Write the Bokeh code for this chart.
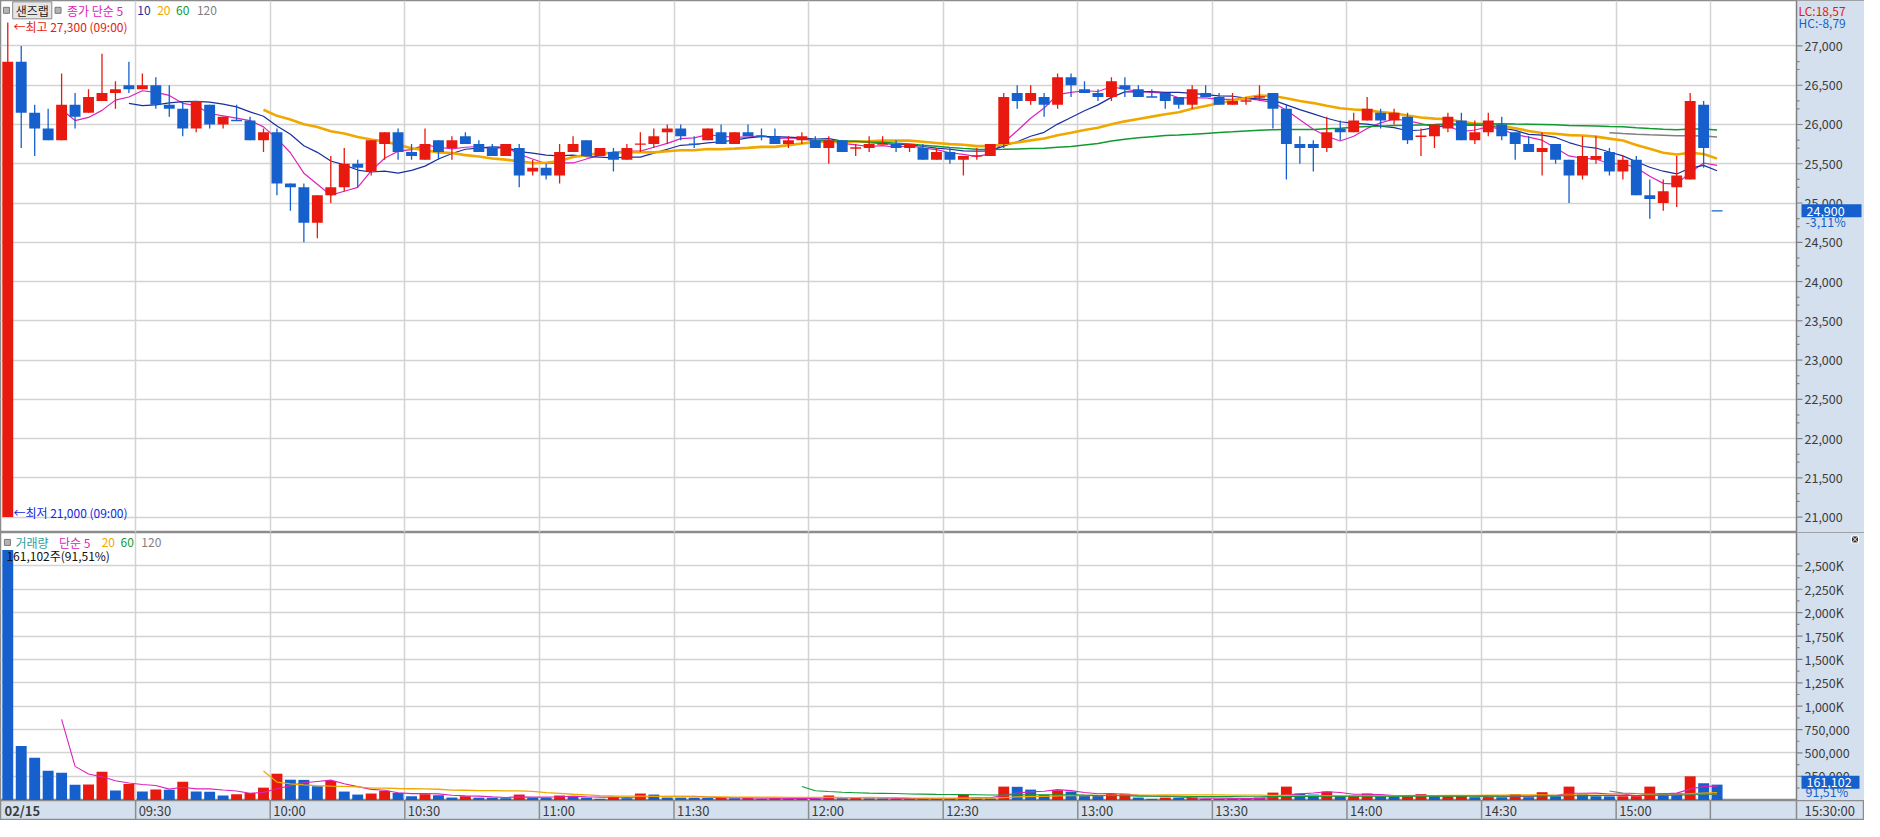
import pandas as pd
from bokeh.plotting import figure
from bokeh.layouts import column
from bokeh.models import Range1d, FixedTicker, Label, ColumnDataSource
from bokeh.core.properties import value
from bokeh.embed import file_html
from bokeh.resources import INLINE

# ---------------- data (3-minute candles, slot 0 = 09:00, slot 127 = 15:30 close) ----------------
opens = [21000, 26800, 26150, 25950, 25800, 26250, 26150, 26300, 26400, 26500,
         26450, 26500, 26250, 26200, 25950, 26250, 26000, 26050, 26050, 25800,
         25900, 25250, 25200, 24750, 25100, 25200, 25500, 25400, 25750, 25900,
         25650, 25550, 25800, 25700, 25850, 25750, 25700, 25600, 25700, 25400,
         25450, 25350, 25650, 25800, 25600, 25650, 25550, 25750, 25750, 25900,
         25950, 25750, 25800, 25900, 25750, 25900, 25850, 25850, 25750, 25800,
         25800, 25700, 25800, 25700, 25700, 25750, 25750, 25700, 25700, 25550,
         25650, 25550, 25600, 25600, 25750, 26400, 26300, 26350, 26250, 26600,
         26450, 26400, 26350, 26500, 26450, 26350, 26400, 26350, 26250, 26400,
         26350, 26250, 26300, 26350, 26400, 26200, 25750, 25750, 25700, 25950,
         25900, 26050, 26150, 26050, 26100, 25850, 25850, 25950, 26050, 25800,
         25900, 26000, 25900, 25750, 25650, 25750, 25550, 25350, 25550, 25650,
         25400, 25550, 25100, 25000, 25200, 25300, 26250, 24900]
highs = [27300, 27000, 26250, 26200, 26650, 26400, 26450, 26900, 26550, 26800,
         26650, 26600, 26500, 26300, 26300, 26250, 26100, 26250, 26100, 25950,
         25950, 25250, 25250, 25100, 25600, 25700, 25550, 25800, 25900, 25950,
         25750, 25950, 25800, 25850, 25900, 25800, 25750, 25750, 25750, 25550,
         25500, 25750, 25850, 25800, 25700, 25700, 25750, 25900, 25950, 26000,
         26000, 25850, 25950, 26000, 25900, 26000, 25950, 25950, 25850, 25900,
         25850, 25850, 25800, 25750, 25850, 25850, 25800, 25750, 25750, 25700,
         25700, 25600, 25700, 25750, 26400, 26500, 26500, 26400, 26650, 26650,
         26550, 26450, 26600, 26600, 26500, 26450, 26400, 26350, 26500, 26500,
         26400, 26400, 26350, 26500, 26400, 26250, 25850, 25800, 26100, 26050,
         26150, 26350, 26200, 26200, 26150, 25950, 26000, 26150, 26150, 26050,
         26150, 26100, 25900, 25850, 25900, 25750, 25550, 25850, 25850, 25700,
         25600, 25600, 25300, 25300, 25600, 26400, 26300, 24900]
lows = [21000, 25700, 25600, 25800, 25800, 25950, 26150, 26300, 26200, 26400,
        26450, 26200, 26100, 25850, 25900, 25950, 25950, 26050, 25800, 25650,
        25100, 24900, 24500, 24550, 25000, 25150, 25200, 25350, 25550, 25550,
        25550, 25550, 25550, 25550, 25750, 25650, 25600, 25600, 25200, 25350,
        25300, 25250, 25650, 25600, 25600, 25400, 25550, 25650, 25700, 25750,
        25800, 25700, 25800, 25750, 25750, 25850, 25800, 25750, 25700, 25750,
        25700, 25500, 25650, 25600, 25650, 25750, 25650, 25650, 25550, 25550,
        25500, 25350, 25550, 25600, 25700, 26200, 26250, 26100, 26200, 26350,
        26400, 26300, 26300, 26350, 26350, 26350, 26200, 26200, 26200, 26350,
        26250, 26250, 26250, 26300, 25950, 25300, 25500, 25400, 25650, 25800,
        25900, 26050, 25950, 26000, 25750, 25600, 25700, 25900, 25800, 25750,
        25850, 25800, 25550, 25650, 25350, 25500, 25000, 25300, 25500, 25350,
        25300, 25100, 24800, 24900, 24950, 25300, 25450, 24900]
closes = [26800, 26150, 25950, 25800, 26250, 26100, 26350, 26400, 26450, 26450,
          26500, 26250, 26200, 25950, 26300, 26000, 26100, 26050, 25800, 25900,
          25250, 25200, 24750, 25100, 25200, 25500, 25450, 25800, 25900, 25650,
          25600, 25750, 25650, 25800, 25750, 25650, 25600, 25750, 25350, 25450,
          25350, 25650, 25750, 25600, 25700, 25550, 25700, 25750, 25850, 25950,
          25850, 25750, 25950, 25750, 25900, 25850, 25850, 25750, 25800, 25850,
          25700, 25800, 25650, 25700, 25750, 25750, 25700, 25750, 25550, 25650,
          25550, 25600, 25600, 25750, 26350, 26300, 26400, 26250, 26600, 26500,
          26400, 26350, 26550, 26450, 26350, 26350, 26300, 26250, 26450, 26350,
          26250, 26300, 26300, 26350, 26200, 25750, 25700, 25700, 25900, 25900,
          26050, 26200, 26050, 26150, 25800, 25850, 26000, 26100, 25800, 25900,
          26050, 25850, 25750, 25650, 25700, 25550, 25350, 25600, 25600, 25400,
          25550, 25100, 25050, 25150, 25350, 26300, 25700, 24900]
volumes = [2669000, 575000, 448000, 310000, 289000, 161000, 163000, 299000, 98000, 168000,
           87000, 108000, 106000, 193000, 87000, 85000, 45000, 59000, 73000, 129000,
           278000, 214000, 212000, 144000, 200000, 87000, 55000, 66000, 94000, 73000,
           37000, 59000, 48000, 23000, 37000, 22000, 21000, 16000, 55000, 23000,
           22000, 45000, 41000, 23000, 9000, 27000, 16000, 66000, 55000, 23000,
           22000, 21000, 20000, 23000, 16000, 18000, 9000, 18000, 8000, 23000,
           12000, 45000, 16000, 18000, 15000, 14000, 10000, 9000, 10000, 8000,
           10000, 52000, 16000, 15000, 140000, 138000, 108000, 52000, 101000, 87000,
           41000, 40000, 62000, 64000, 23000, 9000, 23000, 22000, 24000, 9000,
           8000, 7000, 9000, 23000, 76000, 140000, 66000, 55000, 87000, 41000,
           43000, 66000, 37000, 36000, 38000, 59000, 37000, 38000, 39000, 27000,
           28000, 26000, 59000, 27000, 80000, 37000, 140000, 59000, 37000, 36000,
           37000, 38000, 140000, 70000, 68000, 250000, 176050, 161102]

tick_slots = [10, 20, 30, 40, 50, 60, 70, 80, 90, 100, 110, 120]
tick_labels = ["09:30", "10:00", "10:30", "11:00", "11:30", "12:00",
               "12:30", "13:00", "13:30", "14:00", "14:30", "15:00"]
close_slot = 127
session_date = "02/15"
close_time = "15:30:00"
price_ma_windows = [5, 10, 20, 60, 120]
volume_ma_windows = [5, 20, 60, 120]
price_ticks = [21000, 21500, 22000, 22500, 23000, 23500, 24000, 24500, 25000, 25500, 26000, 26500, 27000]
price_tick_labels = ["21,000", "21,500", "22,000", "22,500", "23,000", "23,500", "24,000",
                     "24,500", "25,000", "25,500", "26,000", "26,500", "27,000"]
volume_ticks = [250000, 500000, 750000, 1000000, 1250000, 1500000, 1750000, 2000000, 2250000, 2500000]
volume_tick_labels = ["250,000", "500,000", "750,000", "1,000K", "1,250K", "1,500K",
                      "1,750K", "2,000K", "2,250K", "2,500K"]
last_price = 24900
last_price_text = "24,900"
last_change_text = "-3,11%"
last_volume = 161102
last_volume_text = "161,102"
volume_ratio_text = "91,51%"
volume_info_text = "161,102주(91,51%)"
lc_text = "LC:18,57"
hc_text = "HC:-8,79"
high_text = "←최고 27,300 (09:00)"
low_text = "←최저 21,000 (09:00)"

# ---------------- style / geometry ----------------
RED = "#E8190E"
BLUE = "#1560CC"
BAND = "#D5E0EE"
GRID = "#D3D3D3"
EDGE = "#8C8C8C"
AXIS = "#808080"
TXT = "#3C3C3C"
FONT = "Noto Sans CJK KR"
MA_COL = {5: "#DD22BB", 10: "#1A2FA0", 20: "#F0A800", 60: "#109A30", 120: "#808080"}
MA_W = {5: 1.2, 10: 1.2, 20: 2.6, 60: 1.5, 120: 1.5}

W = 1864           # total frame width (plot + right scale band)
RB = 68            # right scale band width in px
PH, VH, BH = 532, 268, 20
X0, XB = -0.54, 132.9                 # plot x extent in slots
SPP = (XB - X0) / (W - RB)            # slots per pixel
XE = XB + RB * SPP
xr = Range1d(X0, XE)
price_range = Range1d(20804, 27579)
vol_range = Range1d(-8500, 2857000)
PPP = (price_range.end - price_range.start) / PH   # price per px
VPP = (vol_range.end - vol_range.start) / VH       # volume per px

n = len(closes)
slots = list(range(n))


# reference-pixel helpers (annotation positions)
def sx(px):
    return X0 + (px - 1) / 13.57


def bx(px):   # px inside the right scale band
    return XB + px * SPP


def py(px):
    return 26000 - (px - 127.3) * 12.5


def vy(px):
    return (814.2 - px) * 10613


# candle colours
ccol = []
for k in range(n):
    o, c = opens[k], closes[k]
    if c > o:
        ccol.append(RED)
    elif c < o:
        ccol.append(BLUE)
    else:
        prev = closes[k - 1] if k else o
        if c > prev:
            ccol.append(RED)
        elif c < prev:
            ccol.append(BLUE)
        else:
            ccol.append(ccol[-1] if ccol else RED)
vcol = [RED if (k > 0 and volumes[k] > volumes[k - 1]) else BLUE for k in range(n)]

grid_x = [s - 0.5 for s in tick_slots] + [close_slot - 0.5]


def base_fig(h, yr, bg="white"):
    f = figure(frame_width=W, frame_height=h, x_range=xr, y_range=yr,
               output_backend="svg", toolbar_location=None,
               x_axis_location=None, y_axis_location=None,
               min_border_left=0, min_border_right=0, min_border_top=0, min_border_bottom=0,
               background_fill_color=bg, border_fill_color=BAND,
               outline_line_color=EDGE, outline_line_width=1.5)
    f.xgrid.ticker = FixedTicker(ticks=grid_x)
    f.xgrid.grid_line_color = GRID
    f.xgrid.grid_line_width = 1.5
    f.ygrid.grid_line_color = GRID
    f.ygrid.grid_line_width = 1.5
    return f


def txt(f, xs, ys, texts, colors, size="12px", align="left", style="normal"):
    src = ColumnDataSource(dict(x=xs, y=ys, t=texts, c=colors))
    f.text(x="x", y="y", text="t", text_color="c", source=src, text_font=value(FONT),
           text_font_size=size, text_align=align, text_baseline="middle", text_font_style=style)


def scale_band(f, yr, ticks, labels, minor):
    # background of the right scale band, axis line, ticks and tick labels
    f.quad(left=[XB], right=[XE], bottom=[yr.start], top=[yr.end], fill_color=BAND, line_color=None)
    f.segment(x0=[XB], x1=[XB], y0=[yr.start], y1=[yr.end], line_color=AXIS, line_width=1.5)
    f.segment(x0=[XB] * len(ticks), x1=[XB + 6 * SPP] * len(ticks), y0=ticks, y1=ticks,
              line_color=AXIS, line_width=1.2)
    f.segment(x0=[XB] * len(minor), x1=[XB + 3 * SPP] * len(minor), y0=minor, y1=minor,
              line_color=AXIS, line_width=1.2)
    txt(f, [XB + 8 * SPP] * len(ticks), ticks, labels, [TXT] * len(ticks), size="12.5px")


def box_label(f, y, text, yspan, right_px):
    f.quad(left=[bx(5)], right=[bx(right_px)], bottom=[y - yspan / 2], top=[y + yspan / 2],
           fill_color=BLUE, line_color=None)
    txt(f, [bx(10)], [y], [text], ["white"], size="12.5px")


# ---------------- price panel ----------------
p = base_fig(PH, price_range)
p.ygrid.ticker = FixedTicker(ticks=price_ticks)

cs = pd.Series(closes, dtype=float)
for w in price_ma_windows:
    ma = cs.rolling(w).mean()
    p.line(slots, ma.tolist(), line_color=MA_COL[w], line_width=MA_W[w])

top = [max(o, c) for o, c in zip(opens, closes)]
bot = [min(o, c) for o, c in zip(opens, closes)]
csrc = ColumnDataSource(dict(x=slots, o=opens, h=highs, l=lows, c=closes, top=top, bot=bot, col=ccol))
p.segment(x0="x", y0="l", x1="x", y1="h", line_color="col", line_width=1.3, source=csrc)
p.vbar(x="x", width=0.81, top="top", bottom="bot", fill_color="col", line_color=None, source=csrc)
doji = [k for k in range(n) if opens[k] == closes[k]]
p.segment(x0=[k - 0.405 for k in doji], x1=[k + 0.405 for k in doji],
          y0=[closes[k] for k in doji], y1=[closes[k] for k in doji],
          line_color=[ccol[k] for k in doji], line_width=1.4)

minor_p = [m for t in price_ticks for m in (t - 300, t - 200) if m > price_range.start]
scale_band(p, price_range, price_ticks, price_tick_labels, minor_p)

# legend rows
p.scatter([sx(7), sx(59)], [py(11), py(11)], marker="square", size=6,
          fill_color="#B4B4B4", line_color="#7A7A7A")
p.add_layout(Label(x=sx(33), y=py(11), text="샌즈랩", text_font=FONT, text_font_size="12px",
                   text_color="#202020", text_align="center", text_baseline="middle",
                   background_fill_color="#E6E6E6", border_line_color="#8A8A8A",
                   padding=dict(left=3, right=3, top=0, bottom=0)))
txt(p, [sx(68), sx(139), sx(159), sx(178), sx(199)], [py(11)] * 5,
    ["종가 단순 5", "10", "20", "60", "120"],
    [MA_COL[5], MA_COL[10], MA_COL[20], MA_COL[60], MA_COL[120]])
txt(p, [sx(14)], [py(27)], [high_text], [RED])
txt(p, [sx(14)], [py(522.7)], [low_text], ["#1028E0"])

# right band texts
txt(p, [bx(2)], [py(11)], [lc_text], [RED])
txt(p, [bx(2)], [py(23)], [hc_text], [BLUE])
box_label(p, last_price, last_price_text, 13 * PPP, 65)
txt(p, [bx(9)], [py(226)], [last_change_text], [BLUE], size="12.5px")

# ---------------- volume panel ----------------
v = base_fig(VH, vol_range)
v.ygrid.ticker = FixedTicker(ticks=volume_ticks)
vsrc = ColumnDataSource(dict(x=slots, v=volumes, col=vcol))
v.vbar(x="x", width=0.81, top="v", bottom=vol_range.start, fill_color="col", line_color=None, source=vsrc)
vs = pd.Series(volumes, dtype=float)
for w in volume_ma_windows:
    ma = vs.rolling(w).mean()
    v.line(slots, ma.tolist(), line_color=MA_COL[w], line_width=1.3 if w == 20 else 1.1)

minor_v = [t + 125000 for t in [0] + volume_ticks]
scale_band(v, vol_range, volume_ticks, volume_tick_labels, minor_v)

v.scatter([sx(8)], [vy(555)], marker="square", size=6, fill_color="#B4B4B4", line_color="#7A7A7A")
txt(v, [sx(16), sx(60), sx(103), sx(122), sx(143)], [vy(555.5)] * 5,
    ["거래량", "단순 5", "20", "60", "120"],
    ["#2F9D9D", MA_COL[5], MA_COL[20], MA_COL[60], MA_COL[120]])
txt(v, [sx(7)], [vy(568)], [volume_info_text], ["#101010"])
v.scatter([bx(58.5)], [vy(552)], marker="square_x", size=7, fill_color="#303030", line_color="white")
box_label(v, vy(796.5), last_volume_text, 13 * VPP, 63)
txt(v, [bx(9)], [vy(806)], [volume_ratio_text], [BLUE], size="12.5px")

# ---------------- time band ----------------
b = base_fig(BH, Range1d(0, 1), bg=BAND)
b.xgrid.visible = False
b.ygrid.visible = False
b.segment(x0=grid_x + [XB], x1=grid_x + [XB], y0=[0] * (len(grid_x) + 1), y1=[1] * (len(grid_x) + 1),
          line_color=EDGE, line_width=1.5)
txt(b, [s - 0.5 + 3 * SPP for s in tick_slots], [0.5] * len(tick_slots), tick_labels,
    [TXT] * len(tick_slots), size="13px")
txt(b, [X0 + 4 * SPP], [0.5], [session_date], [TXT], size="13px", style="bold")
txt(b, [bx(8)], [0.5], [close_time], [TXT], size="13px")

layout = column(p, v, b, spacing=0)
open("out.html", "w").write(file_html(layout, INLINE))
